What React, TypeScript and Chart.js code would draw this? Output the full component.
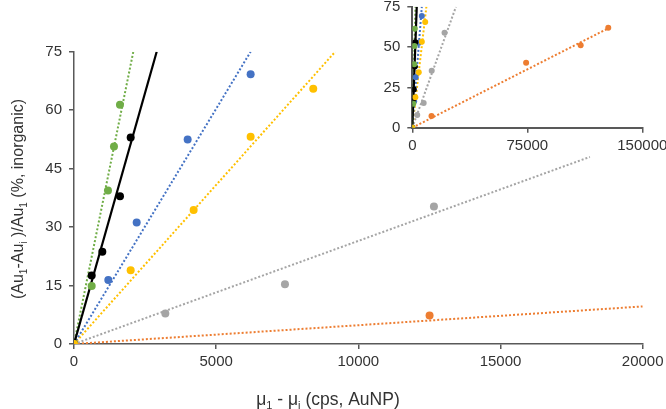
import React, { useEffect, useRef } from 'react';
import { Chart, registerables } from 'chart.js';
Chart.register(...registerables);

// ---- data ----
const blackX = [0, 622, 996, 1617, 1993];
const blackY = [0, 17.6, 23.7, 37.9, 53.0];
const greenX = [0, 622, 1195, 1406, 1617];
const greenY = [0, 14.9, 39.4, 50.7, 61.4];
const blueX = [0, 1207, 2204, 3997, 6212];
const blueY = [0, 16.4, 31.2, 52.5, 69.2];
const yellowX = [0, 1993, 4208, 6212, 8414];
const yellowY = [0, 18.9, 34.4, 53.2, 65.5];
const grayX = [0, 3212, 7419, 12658, 21030];
const grayY = [0, 7.8, 15.3, 35.3, 58.9];
const orangeX = [0, 12505, 74219, 109800, 127800];
const orangeY = [0, 7.3, 40.2, 51.1, 61.9];

// trend line end points (each starts at the origin)
const blackTrendEnd = [2908, 75];
const greenTrendEnd = [2086, 75];
const blueTrendEnd = [6212, 75];
const yellowTrendEnd = [9188, 75];
const grayTrendEndMain = [18143, 48.0];
const grayTrendEndInset = [28450, 74.9];
const orangeTrendEnd = [128000, 61.7];

const mainXTicks = [0, 5000, 10000, 15000, 20000];
const mainYTicks = [0, 15, 30, 45, 60, 75];
const insetXTicks = [0, 75000, 150000];
const insetYTicks = [0, 25, 50, 75];

const C = {
  black: '#000000',
  green: '#70AD47',
  blue: '#4472C4',
  yellow: '#FFC000',
  gray: '#A5A5A5',
  orange: '#ED7D31',
};

const FONT = "'Liberation Sans', Arial, Helvetica, sans-serif";
const AXIS = '#595959';
const TICKTXT = '#333333';

function pts(xs: number[], ys: number[]) {
  return xs.map((x, i) => ({ x, y: ys[i] }));
}
function trend(end: number[]) {
  return [{ x: 0, y: 0 }, { x: end[0], y: end[1] }];
}

function pointSet(xs: number[], ys: number[], color: string, r: number) {
  return {
    data: pts(xs, ys),
    showLine: false,
    pointRadius: r,
    pointBackgroundColor: color,
    pointBorderColor: color,
    pointBorderWidth: 0,
    backgroundColor: color,
    borderColor: color,
  };
}
function lineSet(end: number[], color: string, dotted: boolean, w: number) {
  return {
    data: trend(end),
    showLine: true,
    pointRadius: 0,
    borderColor: color,
    borderWidth: w,
    borderDash: dotted ? [2, 2] : [],
    fill: false,
    tension: 0,
  };
}

type Seg = { t: string; sub?: boolean };
function drawRich(ctx: CanvasRenderingContext2D, segs: Seg[], size: number) {
  const big = `${size}px ${FONT}`;
  const small = `${Math.round(size * 0.65)}px ${FONT}`;
  let total = 0;
  const widths = segs.map((s) => {
    ctx.font = s.sub ? small : big;
    const w = ctx.measureText(s.t).width;
    total += w;
    return w;
  });
  let x = -total / 2;
  segs.forEach((s, i) => {
    ctx.font = s.sub ? small : big;
    ctx.fillText(s.t, x, s.sub ? size * 0.22 : 0);
    x += widths[i];
  });
}

const xTitle: Seg[] = [
  { t: 'μ' }, { t: '1', sub: true }, { t: ' - μ' }, { t: 'i', sub: true }, { t: ' (cps, AuNP)' },
];
const yTitle: Seg[] = [
  { t: '(Au' }, { t: '1', sub: true }, { t: '-Au' }, { t: 'i', sub: true }, { t: ' )/Au' },
  { t: '1', sub: true }, { t: ' (%, inorganic)' },
];

const titlePlugin = {
  id: 'richTitles',
  afterDraw(chart: any) {
    const ctx = chart.ctx as CanvasRenderingContext2D;
    ctx.save();
    ctx.fillStyle = TICKTXT;
    ctx.textBaseline = 'alphabetic';
    ctx.textAlign = 'left';
    ctx.translate(328, 405);
    drawRich(ctx, xTitle, 17.5);
    ctx.restore();
    ctx.save();
    ctx.fillStyle = TICKTXT;
    ctx.textBaseline = 'alphabetic';
    ctx.textAlign = 'left';
    ctx.translate(23, 199);
    ctx.rotate(-Math.PI / 2);
    drawRich(ctx, yTitle, 16);
    ctx.restore();
  },
};

function axisOpts(
  min: number, max: number, ticks: number[], fixed: number, isX: boolean,
  pad: number, borderW: number
) {
  return {
    type: 'linear',
    min,
    max,
    afterBuildTicks(scale: any) {
      scale.ticks = ticks.map((v) => ({ value: v }));
    },
    afterFit(scale: any) {
      if (isX) scale.height = fixed;
      else scale.width = fixed;
      scale.paddingLeft = 0;
      scale.paddingRight = 0;
      scale.paddingTop = 0;
      scale.paddingBottom = 0;
    },
    grid: {
      drawOnChartArea: false,
      drawTicks: true,
      tickLength: 5,
      color: AXIS,
      lineWidth: 1.5,
    },
    border: { display: true, color: AXIS, width: borderW },
    ticks: {
      padding: pad,
      color: TICKTXT,
      font: { family: FONT, size: 15 },
      maxRotation: 0,
      autoSkip: false,
      callback: (v: any) => String(v),
    },
  };
}

function MainChart() {
  const ref = useRef<HTMLCanvasElement>(null);
  useEffect(() => {
    const chart = new Chart(ref.current as HTMLCanvasElement, {
      type: 'scatter',
      data: {
        datasets: [
          pointSet(yellowX, yellowY, C.yellow, 4),
          pointSet(greenX, greenY, C.green, 4),
          pointSet(blackX, blackY, C.black, 4),
          pointSet(blueX, blueY, C.blue, 4),
          pointSet(grayX, grayY, C.gray, 4),
          pointSet(orangeX, orangeY, C.orange, 4),
          lineSet(blackTrendEnd, C.black, false, 2.2),
          lineSet(greenTrendEnd, C.green, true, 2),
          lineSet(blueTrendEnd, C.blue, true, 2),
          lineSet(yellowTrendEnd, C.yellow, true, 2),
          lineSet(grayTrendEndMain, C.gray, true, 2),
          lineSet(orangeTrendEnd, C.orange, true, 2),
        ] as any,
      },
      options: {
        responsive: false,
        animation: false,
        events: [],
        layout: { padding: { left: 0, right: 23.3, top: 51.7, bottom: 0 } },
        plugins: { legend: { display: false }, tooltip: { enabled: false } },
        scales: {
          x: axisOpts(0, 20000, mainXTicks, 65, true, 3.5, 1.5),
          y: axisOpts(0, 75, mainYTicks, 74, false, 7, 1.5),
        } as any,
      },
      plugins: [titlePlugin],
    });
    return () => chart.destroy();
  }, []);
  return <canvas ref={ref} width={666} height={409} style={{ position: 'absolute', left: 0, top: 0 }} />;
}

function InsetChart() {
  const ref = useRef<HTMLCanvasElement>(null);
  useEffect(() => {
    const chart = new Chart(ref.current as HTMLCanvasElement, {
      type: 'scatter',
      data: {
        datasets: [
          pointSet(yellowX, yellowY, C.yellow, 3),
          pointSet(greenX, greenY, C.green, 3),
          pointSet(blackX, blackY, C.black, 3),
          pointSet(blueX, blueY, C.blue, 3),
          pointSet(grayX, grayY, C.gray, 3),
          pointSet(orangeX, orangeY, C.orange, 3),
          lineSet(blackTrendEnd, C.black, false, 2.2),
          lineSet(greenTrendEnd, C.green, true, 2),
          lineSet(blueTrendEnd, C.blue, true, 2),
          lineSet(yellowTrendEnd, C.yellow, true, 2),
          lineSet(grayTrendEndInset, C.gray, true, 2),
          lineSet(orangeTrendEnd, C.orange, true, 2),
        ] as any,
      },
      options: {
        responsive: false,
        animation: false,
        events: [],
        layout: { padding: { left: 0, right: 23.7, top: 6.7, bottom: 0 } },
        plugins: { legend: { display: false }, tooltip: { enabled: false } },
        scales: {
          x: axisOpts(0, 150000, insetXTicks, 32.3, true, 4, 2),
          y: axisOpts(0, 75, insetYTicks, 52.3, false, 7, 2),
        } as any,
      },
    });
    return () => chart.destroy();
  }, []);
  return <canvas ref={ref} width={306} height={160} style={{ position: 'absolute', left: 360, top: 0 }} />;
}

export default function App() {
  return (
    <div
      style={{
        position: 'fixed',
        left: 0,
        top: 0,
        width: 666,
        height: 409,
        overflow: 'hidden',
        background: '#ffffff',
      }}
    >
      <MainChart />
      <InsetChart />
    </div>
  );
}
